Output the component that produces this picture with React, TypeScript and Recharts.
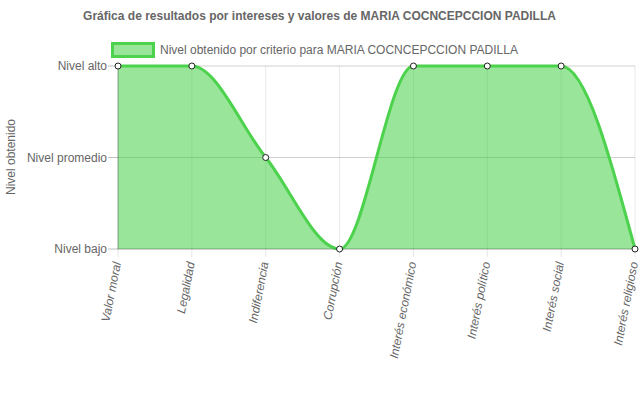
import React from 'react';
import { AreaChart, Area, XAxis, YAxis, CartesianGrid } from 'recharts';

const CRITERIOS = [
  'Valor moral',
  'Legalidad',
  'Indiferencia',
  'Corrupción',
  'Interés económico',
  'Interés político',
  'Interés social',
  'Interés religioso',
];

// 1 = bajo, 2 = promedio, 3 = alto
const NIVELES = [3, 3, 2, 1, 3, 3, 3, 1];

const NIVEL_LABELS: Record<number, string> = {
  1: 'Nivel bajo',
  2: 'Nivel promedio',
  3: 'Nivel alto',
};

const TITLE = 'Gráfica de resultados por intereses y valores de MARIA COCNCEPCCION PADILLA';
const SERIES_NAME = 'Nivel obtenido por criterio para MARIA COCNCEPCCION PADILLA';

const FONT = "'Liberation Sans', Arial, Helvetica, sans-serif";
const TEXT = '#666';
const LINE = '#4cd24c';
const FILL = '#33cc33';

const data = CRITERIOS.map((name, i) => ({ name, nivel: NIVELES[i] }));

function XTick(props: any) {
  const { x, y, payload } = props;
  const ax = x - 1;
  const ay = y + 3;
  return (
    <text
      x={ax}
      y={ay}
      transform={`rotate(-79, ${ax}, ${ay})`}
      textAnchor="end"
      dominantBaseline="central"
      fontSize={12}
      fontStyle="italic"
      fontFamily={FONT}
      fill={TEXT}
    >
      {payload.value}
    </text>
  );
}

export default function App() {
  return (
    <div style={{ position: 'absolute', left: 0, top: 0, width: 639, height: 396, fontFamily: FONT }}>
      <div
        style={{
          position: 'absolute',
          left: 0,
          top: 9,
          width: 639,
          textAlign: 'center',
          fontSize: 12,
          fontWeight: 'bold',
          color: TEXT,
        }}
      >
        {TITLE}
      </div>
      <div style={{ position: 'absolute', left: 111, top: 42, display: 'flex', alignItems: 'center' }}>
        <span
          style={{
            display: 'inline-block',
            width: 38,
            height: 10,
            background: 'rgba(51,204,51,0.5)',
            border: `3px solid ${LINE}`,
          }}
        />
        <span style={{ marginLeft: 5, fontSize: 12, color: TEXT }}>{SERIES_NAME}</span>
      </div>
      <div
        style={{
          position: 'absolute',
          left: 11,
          top: 157,
          transform: 'translate(-50%, -50%) rotate(-90deg)',
          fontSize: 12,
          color: TEXT,
          whiteSpace: 'nowrap',
        }}
      >
        Nivel obtenido
      </div>
      <AreaChart
        width={639}
        height={396}
        data={data}
        margin={{ top: 66, right: 4, bottom: 0, left: 0 }}
        style={{ position: 'absolute', left: 0, top: 0 }}
      >
        <CartesianGrid vertical={false} stroke="rgba(0,0,0,0.18)" />
        <CartesianGrid horizontal={false} stroke="rgba(0,0,0,0.09)" />
        <XAxis
          dataKey="name"
          height={147}
          interval={0}
          tick={<XTick />}
          tickSize={8}
          tickLine={{ stroke: 'rgba(0,0,0,0.1)' }}
          axisLine={{ stroke: 'rgba(0,0,0,0.2)' }}
        />
        <YAxis
          width={118}
          domain={[1, 3]}
          ticks={[1, 2, 3]}
          tickFormatter={(v: number) => NIVEL_LABELS[v]}
          tickSize={10}
          tickMargin={1}
          tickLine={{ stroke: 'rgba(0,0,0,0.25)' }}
          axisLine={{ stroke: 'rgba(0,0,0,0.3)' }}
          tick={{ fill: TEXT, fontSize: 12, fontFamily: FONT }}
        />
        <Area
          type="monotone"
          dataKey="nivel"
          stroke={LINE}
          strokeWidth={3}
          fill={FILL}
          fillOpacity={0.5}
          dot={{ r: 3, fill: '#fff', stroke: '#222', strokeWidth: 1, fillOpacity: 1 }}
          activeDot={false}
          isAnimationActive={false}
        />
      </AreaChart>
    </div>
  );
}
